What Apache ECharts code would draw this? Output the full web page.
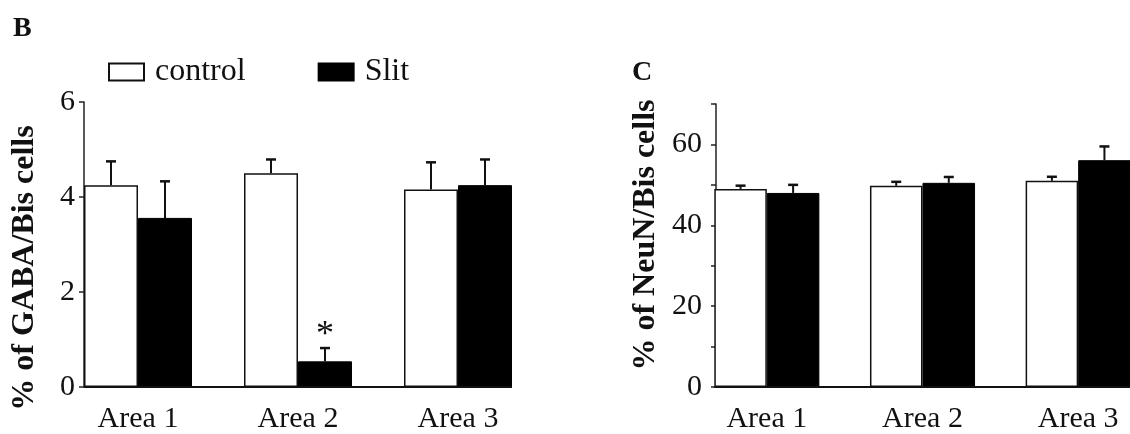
<!DOCTYPE html>
<html>
<head>
<meta charset="utf-8">
<script src="https://cdn.jsdelivr.net/npm/echarts@6/dist/echarts.min.js"></script>
<style>
html,body{margin:0;padding:0;background:#fff;overflow:hidden;}
#chart{width:1160px;height:434px;}
</style>
</head>
<body>
<div id="chart"></div>
<script>
// ---- data ----
const categories = ['Area 1', 'Area 2', 'Area 3'];
const seriesNames = ['control', 'Slit'];
// Panel B: % of GABA/Bis cells
const gabaControl = [4.25, 4.50, 4.16];
const gabaControlErr = [0.50, 0.29, 0.57];
const gabaSlit = [3.56, 0.54, 4.25];
const gabaSlitErr = [0.77, 0.28, 0.54];
const gabaSlitSig = ['', '*', ''];
const gabaTicks = [0, 2, 4, 6];
// Panel C: % of NeuN/Bis cells
const neunControl = [49.0, 49.75, 51.0];
const neunControlErr = [0.8, 1.0, 1.0];
const neunSlit = [48.0, 50.5, 56.1];
const neunSlitErr = [2.0, 1.45, 3.4];
const neunTicks = [0, 20, 40, 60];

// ---- styling ----
const SERIF = 'Liberation Serif';
const INK = '#111';
const BAR_FRAC = 0.3375; // each bar's width as fraction of category band

function errData(vals, errs, sig) {
  return vals.map((v, i) => [i, v, errs[i], sig ? sig[i] : '']);
}

function errRender(side) {
  return function (params, api) {
    const i = api.value(0);
    const v = api.value(1);
    const e = api.value(2);
    const band = api.size([1, 0])[0];
    const x = api.coord([i, 0])[0] + side * band * BAR_FRAC / 2;
    const yBar = api.coord([i, v])[1];
    const yTop = api.coord([i, v + e])[1];
    const children = [
      {type: 'line', shape: {x1: x, y1: yBar, x2: x, y2: yTop}, style: {stroke: INK, lineWidth: 2}},
      {type: 'line', shape: {x1: x - 5, y1: yTop, x2: x + 5, y2: yTop}, style: {stroke: INK, lineWidth: 2.5}}
    ];
    const sig = api.value(3);
    if (sig) {
      children.push({type: 'text', style: {text: sig, x: x, y: yTop - 13, align: 'center', verticalAlign: 'middle',
        font: '36px "' + SERIF + '"', fill: INK}});
    }
    return {type: 'group', children: children};
  };
}

function baselineRender(params, api) {
  const band = api.size([1, 0])[0];
  const x1 = api.coord([0, 0])[0] - band * BAR_FRAC;
  const x2 = api.coord([categories.length - 1, 0])[0] + band * BAR_FRAC;
  const y = api.coord([0, 0])[1];
  return {type: 'line', shape: {x1: x1, y1: y, x2: x2, y2: y}, style: {stroke: INK, lineWidth: 2}};
}

function xAxisDef(gridIndex) {
  return {
    type: 'category', gridIndex: gridIndex, data: categories,
    axisLine: {show: false}, axisTick: {show: false},
    axisLabel: {fontFamily: SERIF, fontSize: 30, color: INK, margin: 17}
  };
}

function yAxisDef(gridIndex, max, interval, ticks, name, offset, nameGap, namePad, labelMargin) {
  return {
    type: 'value', gridIndex: gridIndex, min: 0, max: max, interval: interval, offset: offset,
    name: name, nameLocation: 'middle', nameRotate: 90, nameGap: nameGap,
    nameTextStyle: {fontFamily: SERIF, fontWeight: 'bold', fontSize: 32, color: INK, padding: namePad},
    axisLine: {show: true, lineStyle: {color: '#222', width: 1.5}},
    axisTick: {show: true, length: 5, lineStyle: {color: '#222', width: 1.5}},
    splitLine: {show: false},
    axisLabel: {fontFamily: SERIF, fontSize: 30, color: INK, margin: labelMargin,
      formatter: function (v) { return ticks.indexOf(v) >= 0 ? String(v) : ''; }}
  };
}

const controlStyle = {color: '#fff', borderColor: INK, borderWidth: 1.5};
const slitStyle = {color: '#000', borderColor: '#000', borderWidth: 1};

const option = {
  backgroundColor: '#fff',
  animation: false,
  title: [
    {text: 'B', left: 8, top: 10, textStyle: {fontFamily: SERIF, fontWeight: 'bold', fontSize: 28, color: INK}},
    {text: 'C', left: 627, top: 54, textStyle: {fontFamily: SERIF, fontWeight: 'bold', fontSize: 28, color: INK}}
  ],
  legend: {
    data: seriesNames, left: 103, top: 51, itemWidth: 35, itemHeight: 17, itemGap: 72,
    icon: 'rect',
    textStyle: {fontFamily: SERIF, fontSize: 32, color: INK, padding: [0, 0, 0, 6]}
  },
  grid: [
    {left: 58, width: 480, top: 102, height: 287},
    {left: 689, width: 467, top: 104, height: 287}
  ],
  xAxis: [xAxisDef(0), xAxisDef(1)],
  yAxis: [
    yAxisDef(0, 6, 2, gabaTicks, '% of GABA/Bis cells', -26, 43, [0, 47, 0, 0], 9),
    yAxisDef(1, 70, 10, neunTicks, '% of NeuN/Bis cells', -27, 54, [0, 0, 0, 21], 14)
  ],
  series: [
    {name: 'control', type: 'bar', xAxisIndex: 0, yAxisIndex: 0, data: gabaControl,
      barWidth: (BAR_FRAC * 100) + '%', barGap: '0%', itemStyle: controlStyle},
    {name: 'Slit', type: 'bar', xAxisIndex: 0, yAxisIndex: 0, data: gabaSlit,
      barWidth: (BAR_FRAC * 100) + '%', barGap: '0%', itemStyle: slitStyle},
    {name: 'control', type: 'bar', xAxisIndex: 1, yAxisIndex: 1, data: neunControl,
      barWidth: (BAR_FRAC * 100) + '%', barGap: '0%', itemStyle: controlStyle},
    {name: 'Slit', type: 'bar', xAxisIndex: 1, yAxisIndex: 1, data: neunSlit,
      barWidth: (BAR_FRAC * 100) + '%', barGap: '0%', itemStyle: slitStyle},
    {type: 'custom', xAxisIndex: 0, yAxisIndex: 0, z: 5, renderItem: errRender(-1), data: errData(gabaControl, gabaControlErr)},
    {type: 'custom', xAxisIndex: 0, yAxisIndex: 0, z: 5, renderItem: errRender(1), data: errData(gabaSlit, gabaSlitErr, gabaSlitSig)},
    {type: 'custom', xAxisIndex: 1, yAxisIndex: 1, z: 5, renderItem: errRender(-1), data: errData(neunControl, neunControlErr)},
    {type: 'custom', xAxisIndex: 1, yAxisIndex: 1, z: 5, renderItem: errRender(1), data: errData(neunSlit, neunSlitErr)},
    {type: 'custom', xAxisIndex: 0, yAxisIndex: 0, z: 6, renderItem: baselineRender, data: [[0, 0]]},
    {type: 'custom', xAxisIndex: 1, yAxisIndex: 1, z: 6, renderItem: baselineRender, data: [[0, 0]]}
  ]
};

const chart = echarts.init(document.getElementById('chart'), null, {renderer: 'canvas'});
chart.setOption(option);
</script>
</body>
</html>
